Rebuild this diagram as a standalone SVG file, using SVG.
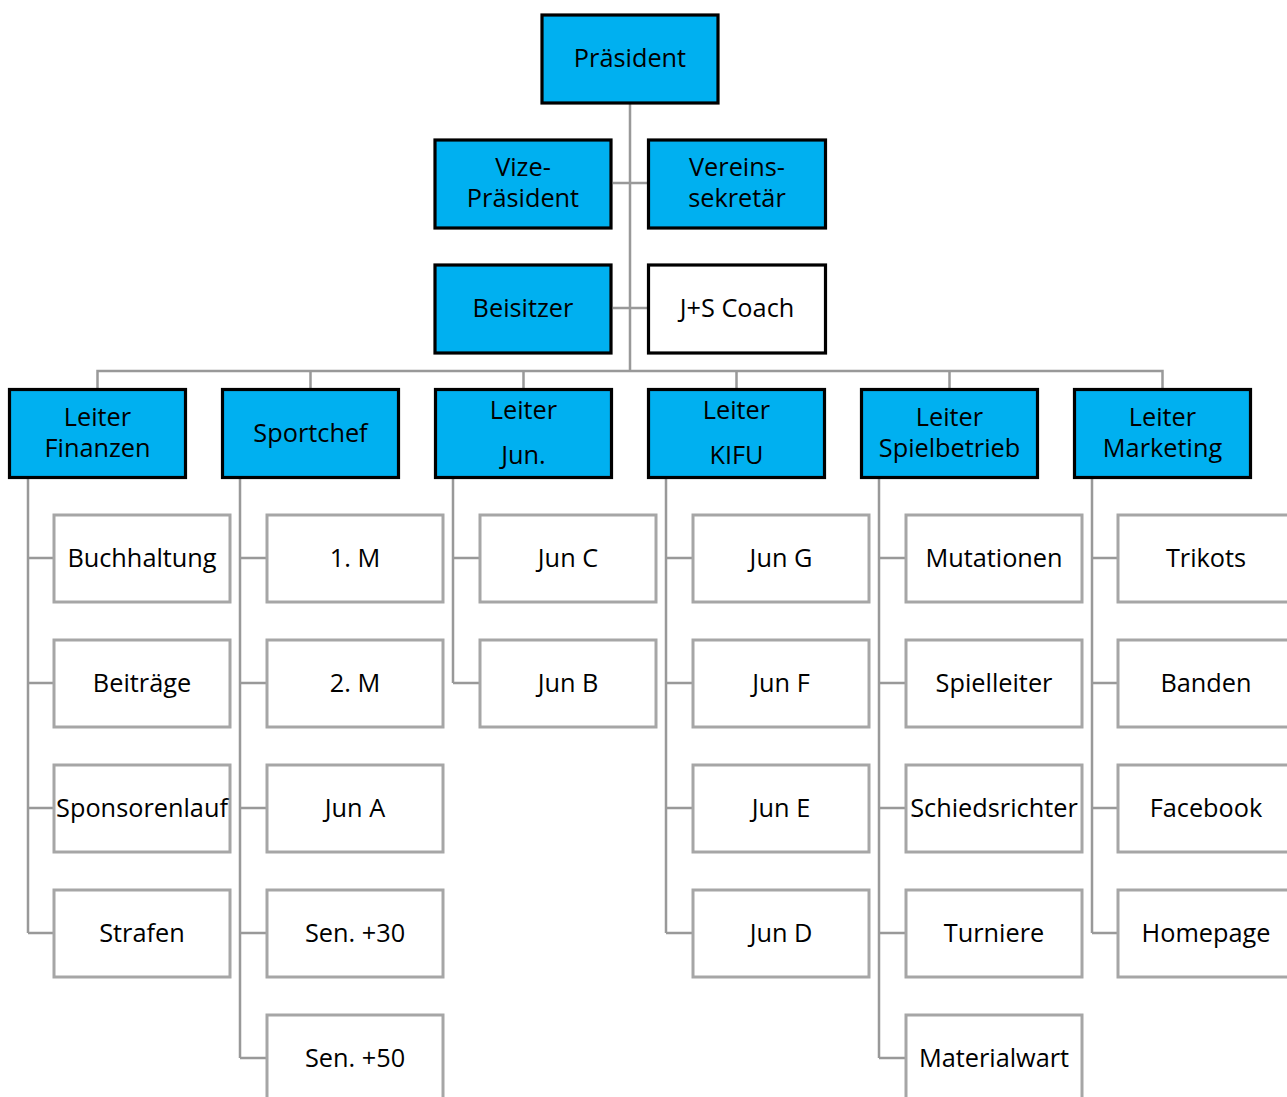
<svg xmlns="http://www.w3.org/2000/svg" width="1287" height="1097" viewBox="0 0 1287 1097">
<style>
.top{fill:#00B0F0;stroke:#000;stroke-width:3.2}
.wtop{fill:#fff;stroke:#000;stroke-width:3.2}
.ch{fill:#fff;stroke:#A6A6A6;stroke-width:3}
.c{fill:none;stroke:#999;stroke-width:2.5}
text{font-family:"Open Sans","Noto Sans",sans-serif;font-size:25.3px;fill:#000;text-anchor:middle}
</style>
<rect width="1287" height="1097" fill="#fff"/>
<g id="connectors">
<path class="c" d="M630 104V371M613 183H647M613 308H647M97.5 389V371H1162.5V389M310.5 371V389M523.5 371V389M736.5 371V389M949.5 371V389"/>
<path class="c" d="M28 479V933M28 558H53M28 683H53M28 808H53M28 933H53"/>
<path class="c" d="M240 479V1058M240 558H266M240 683H266M240 808H266M240 933H266M240 1058H266"/>
<path class="c" d="M453 479V683M453 558H479M453 683H479"/>
<path class="c" d="M666 479V933M666 558H692M666 683H692M666 808H692M666 933H692"/>
<path class="c" d="M879 479V1058M879 558H905M879 683H905M879 808H905M879 933H905M879 1058H905"/>
<path class="c" d="M1092 479V933M1092 558H1117M1092 683H1117M1092 808H1117M1092 933H1117"/>
</g>
<g id="praesident"><rect class="top" x="542" y="15" width="176" height="88"/><text x="630" y="67">Präsident</text></g>
<g id="vize"><rect class="top" x="435" y="140" width="176" height="88"/><text x="523" y="176">Vize-</text><text x="523" y="207">Präsident</text></g>
<g id="sekretaer"><rect class="top" x="648.5" y="140" width="177" height="88"/><text x="737" y="176">Vereins-</text><text x="737" y="207">sekretär</text></g>
<g id="beisitzer"><rect class="top" x="435" y="265" width="176" height="88"/><text x="523" y="317">Beisitzer</text></g>
<g id="js-coach"><rect class="wtop" x="648.5" y="265" width="177" height="88"/><text x="737" y="317">J+S Coach</text></g>
<g id="finanzen"><rect class="top" x="9.5" y="389.5" width="176" height="88"/><text x="97.5" y="426">Leiter</text><text x="97.5" y="457">Finanzen</text></g>
<g id="sportchef"><rect class="top" x="222.5" y="389.5" width="176" height="88"/><text x="310.5" y="442">Sportchef</text></g>
<g id="junioren"><rect class="top" x="435.5" y="389.5" width="176" height="88"/><text x="523.5" y="419">Leiter</text><text x="523.5" y="464">Jun.</text></g>
<g id="kifu"><rect class="top" x="648.5" y="389.5" width="176" height="88"/><text x="736.5" y="419">Leiter</text><text x="736.5" y="464">KIFU</text></g>
<g id="spielbetrieb"><rect class="top" x="861.5" y="389.5" width="176" height="88"/><text x="949.5" y="426">Leiter</text><text x="949.5" y="457">Spielbetrieb</text></g>
<g id="marketing"><rect class="top" x="1074.5" y="389.5" width="176" height="88"/><text x="1162.5" y="426">Leiter</text><text x="1162.5" y="457">Marketing</text></g>
<g id="buchhaltung"><rect class="ch" x="54" y="515" width="176" height="87"/><text x="142" y="567">Buchhaltung</text></g>
<g id="beitraege"><rect class="ch" x="54" y="640" width="176" height="87"/><text x="142" y="692">Beiträge</text></g>
<g id="sponsorenlauf"><rect class="ch" x="54" y="765" width="176" height="87"/><text x="142" y="817">Sponsorenlauf</text></g>
<g id="strafen"><rect class="ch" x="54" y="890" width="176" height="87"/><text x="142" y="942">Strafen</text></g>
<g id="m1"><rect class="ch" x="267" y="515" width="176" height="87"/><text x="355" y="567">1. M</text></g>
<g id="m2"><rect class="ch" x="267" y="640" width="176" height="87"/><text x="355" y="692">2. M</text></g>
<g id="jun-a"><rect class="ch" x="267" y="765" width="176" height="87"/><text x="355" y="817">Jun A</text></g>
<g id="sen30"><rect class="ch" x="267" y="890" width="176" height="87"/><text x="355" y="942">Sen. +30</text></g>
<g id="sen50"><rect class="ch" x="267" y="1015" width="176" height="87"/><text x="355" y="1067">Sen. +50</text></g>
<g id="jun-c"><rect class="ch" x="480" y="515" width="176" height="87"/><text x="568" y="567">Jun C</text></g>
<g id="jun-b"><rect class="ch" x="480" y="640" width="176" height="87"/><text x="568" y="692">Jun B</text></g>
<g id="jun-g"><rect class="ch" x="693" y="515" width="176" height="87"/><text x="781" y="567">Jun G</text></g>
<g id="jun-f"><rect class="ch" x="693" y="640" width="176" height="87"/><text x="781" y="692">Jun F</text></g>
<g id="jun-e"><rect class="ch" x="693" y="765" width="176" height="87"/><text x="781" y="817">Jun E</text></g>
<g id="jun-d"><rect class="ch" x="693" y="890" width="176" height="87"/><text x="781" y="942">Jun D</text></g>
<g id="mutationen"><rect class="ch" x="906" y="515" width="176" height="87"/><text x="994" y="567">Mutationen</text></g>
<g id="spielleiter"><rect class="ch" x="906" y="640" width="176" height="87"/><text x="994" y="692">Spielleiter</text></g>
<g id="schiedsrichter"><rect class="ch" x="906" y="765" width="176" height="87"/><text x="994" y="817">Schiedsrichter</text></g>
<g id="turniere"><rect class="ch" x="906" y="890" width="176" height="87"/><text x="994" y="942">Turniere</text></g>
<g id="materialwart"><rect class="ch" x="906" y="1015" width="176" height="87"/><text x="994" y="1067">Materialwart</text></g>
<g id="trikots"><rect class="ch" x="1118" y="515" width="176" height="87"/><text x="1206" y="567">Trikots</text></g>
<g id="banden"><rect class="ch" x="1118" y="640" width="176" height="87"/><text x="1206" y="692">Banden</text></g>
<g id="facebook"><rect class="ch" x="1118" y="765" width="176" height="87"/><text x="1206" y="817">Facebook</text></g>
<g id="homepage"><rect class="ch" x="1118" y="890" width="176" height="87"/><text x="1206" y="942">Homepage</text></g>
</svg>
